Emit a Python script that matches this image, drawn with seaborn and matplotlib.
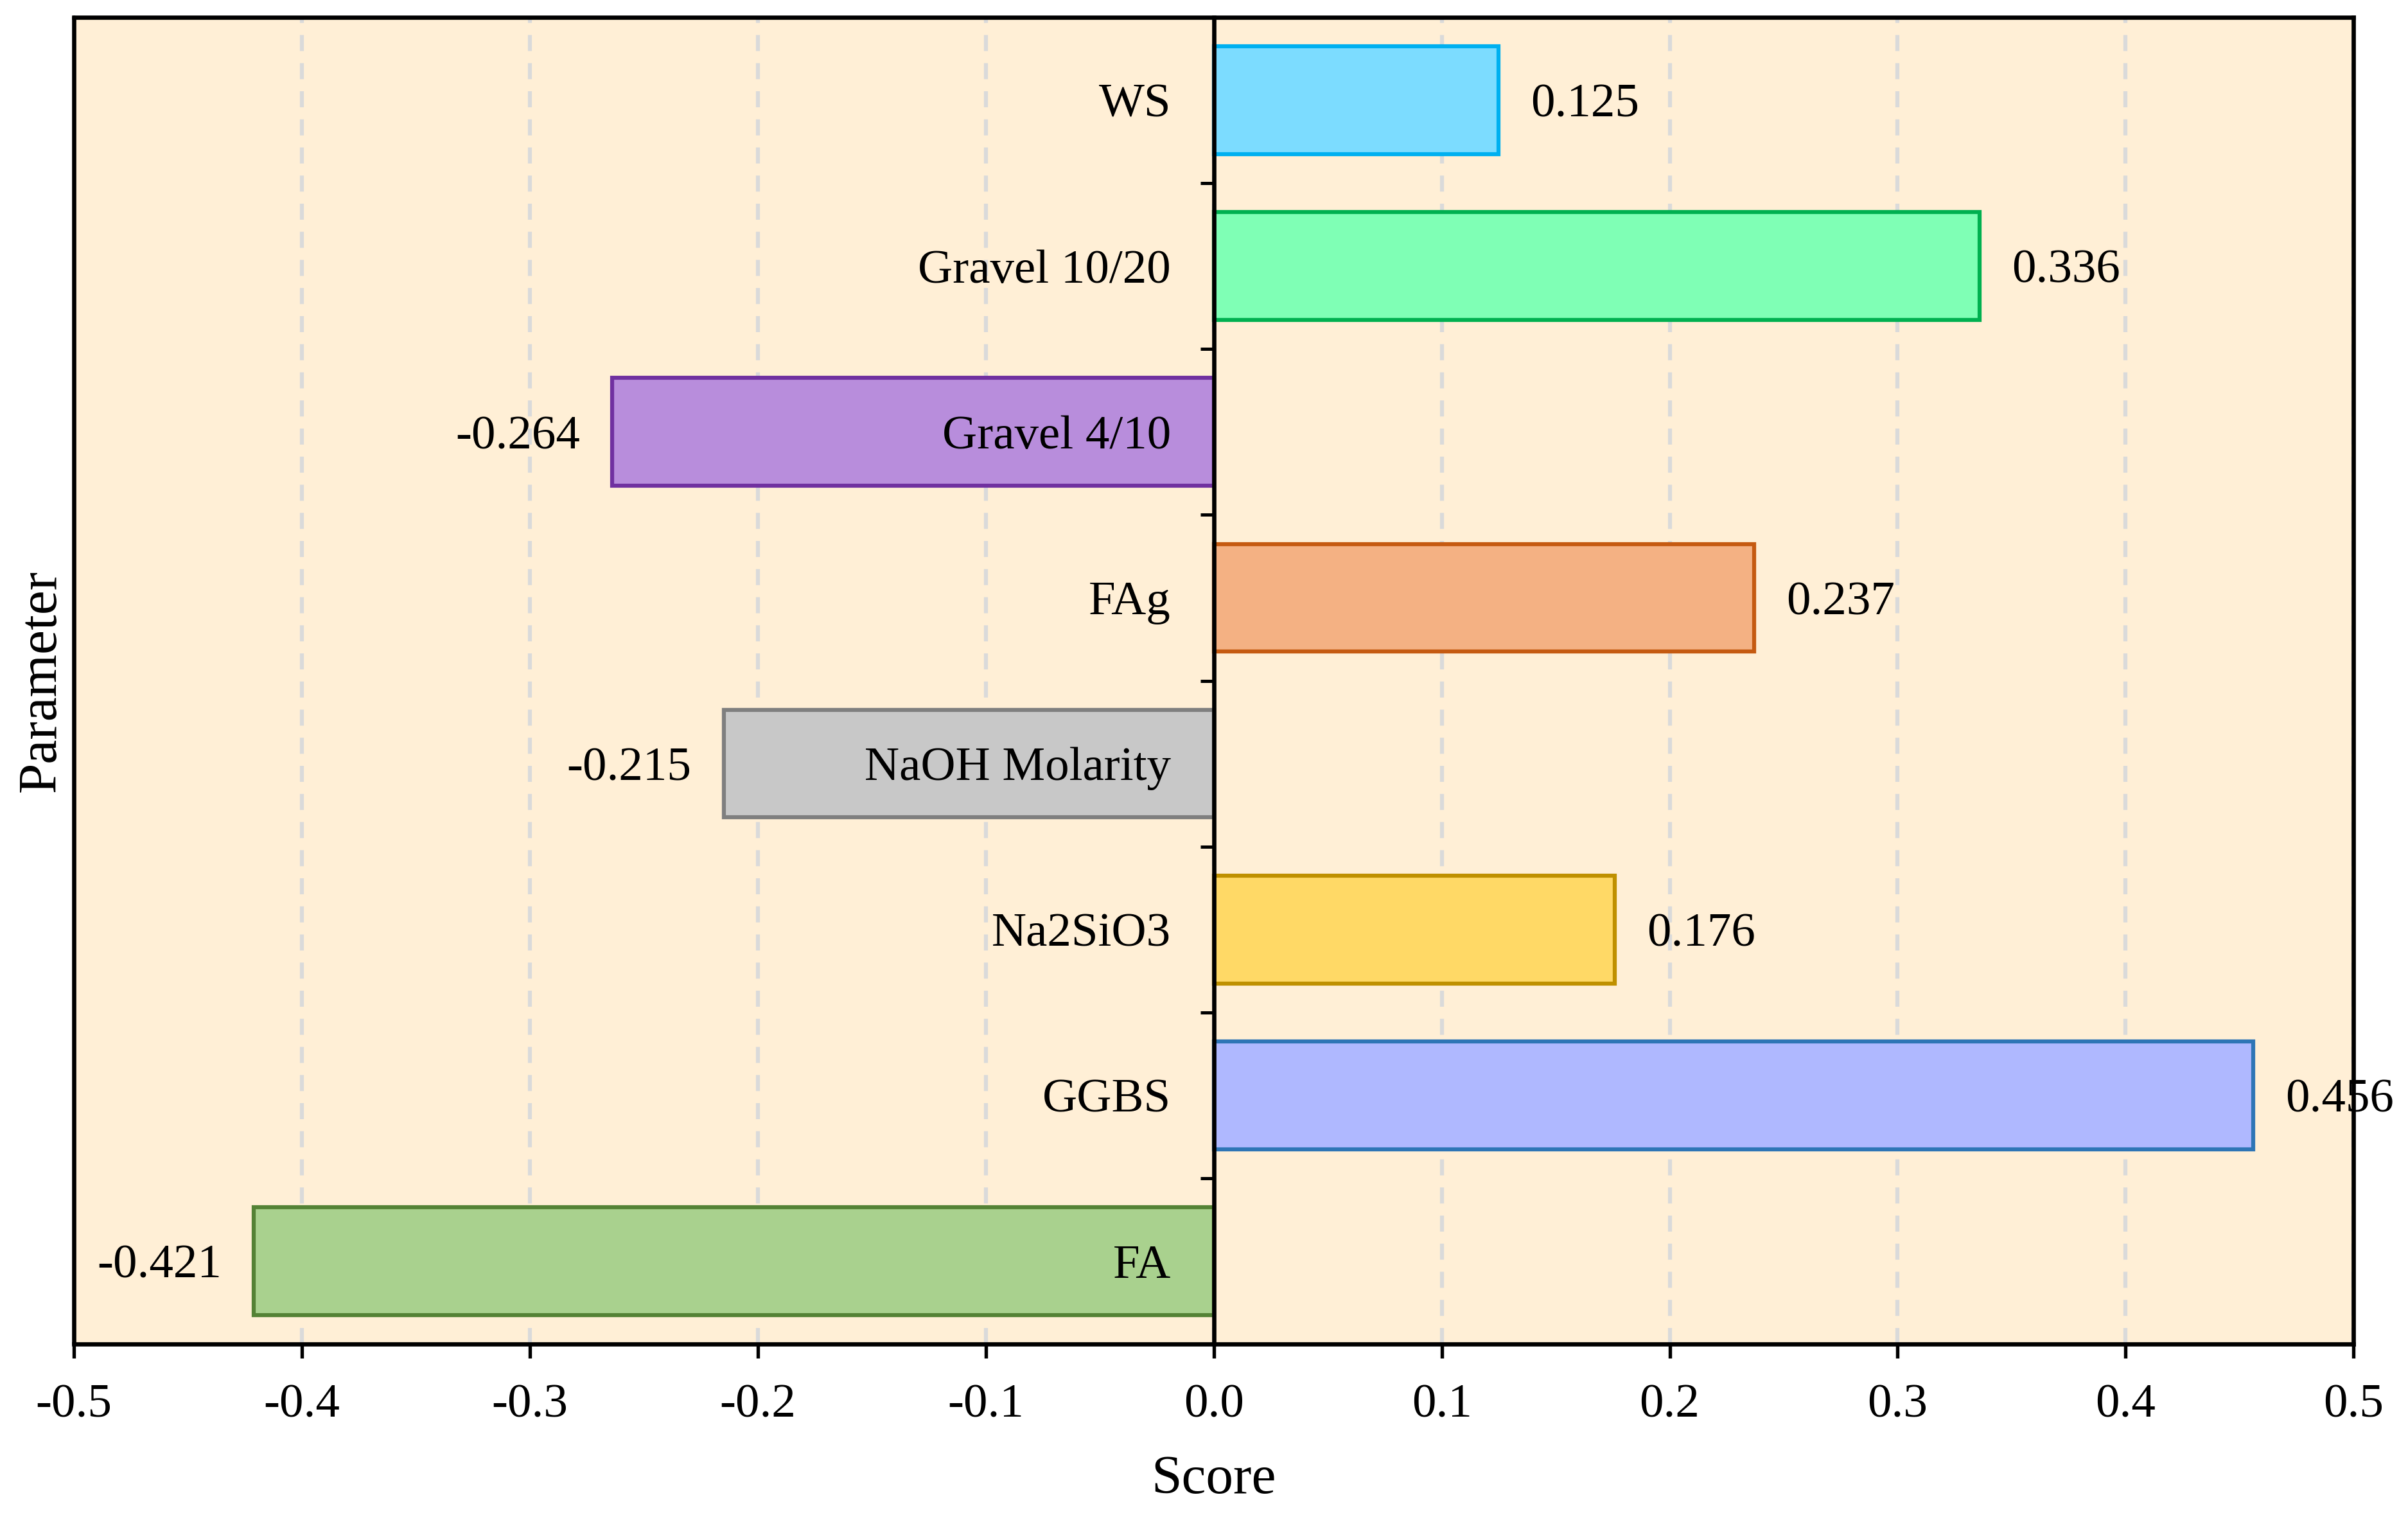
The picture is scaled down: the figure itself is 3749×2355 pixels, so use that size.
import numpy as np
import pandas as pd
import matplotlib
matplotlib.use('Agg')
import matplotlib.pyplot as plt
from matplotlib.ticker import FixedLocator, FormatStrFormatter
import seaborn as sns

# Data (top to bottom as shown)
parameters = ['WS', 'Gravel 10/20', 'Gravel 4/10', 'FAg', 'NaOH Molarity',
              'Na2SiO3', 'GGBS', 'FA']
scores = [0.125, 0.336, -0.264, 0.237, -0.215, 0.176, 0.456, -0.421]
fill_colors = ['#7CDCFF', '#7FFFB5', '#B88DDC', '#F4B183', '#C8C8C8',
               '#FFD966', '#AFB8FF', '#A9D18E']
edge_colors = ['#00B0F0', '#00B050', '#7030A0', '#C55A11', '#7F7F7F',
               '#BF9000', '#2E75B6', '#548235']
x_ticks = [-0.5, -0.4, -0.3, -0.2, -0.1, 0.0, 0.1, 0.2, 0.3, 0.4, 0.5]

df = pd.DataFrame({'Parameter': parameters, 'Score': scores})

sns.set_style('ticks')
plt.rcParams['font.family'] = ['Liberation Serif', 'DejaVu Serif']
plt.rcParams['axes.unicode_minus'] = False
for key in ['text.color', 'axes.labelcolor', 'xtick.color', 'ytick.color']:
    plt.rcParams[key] = 'black'

fig, ax = plt.subplots(figsize=(3749 / 300, 2355 / 300), dpi=300)
fig.subplots_adjust(left=0.0307, right=0.9774, top=0.9885, bottom=0.1117)
ax.set_facecolor('#FFEFD6')

sns.barplot(data=df, x='Score', y='Parameter', hue='Parameter', order=parameters,
            palette=dict(zip(parameters, fill_colors)), orient='h', width=0.65,
            legend=False, linewidth=1.5, saturation=1, ax=ax)

# Edge colours and value labels
for container, edge in zip(ax.containers, edge_colors):
    for patch, value in zip(container.patches, container.datavalues):
        patch.set_edgecolor(edge)
        patch.set_linewidth(1.5)
        y = patch.get_y() + patch.get_height() / 2
        off = 12 if value >= 0 else -12
        ax.annotate(f'{value:.3f}', xy=(value, y), xytext=(off, 0),
                    textcoords='offset points', ha='left' if value >= 0 else 'right',
                    va='center_baseline', fontsize=18, color='black')

ax.set_xlim(-0.5, 0.5)
ax.set_ylim(len(parameters) - 0.5, -0.5)
ax.xaxis.set_major_locator(FixedLocator(x_ticks))
ax.xaxis.set_major_formatter(FormatStrFormatter('%.1f'))
ax.yaxis.set_minor_locator(FixedLocator(np.arange(0.5, len(parameters) - 1, 1.0)))

# Grid behind bars, category labels on top of bars
ax.set_axisbelow(True)
ax.grid(axis='x', color='#DADADA', linewidth=1.5, linestyle=(0, (4, 3)))
ax.grid(axis='y', visible=False)
ax.yaxis.set_zorder(3)

# Spines: left axis at x = 0, box line at the left edge
for side in ['top', 'right', 'bottom', 'left']:
    ax.spines[side].set_linewidth(1.6)
    ax.spines[side].set_color('black')
    ax.spines[side].set_zorder(3)
ax.spines['left'].set_position(('data', 0))
ax.axvline(-0.5, color='black', linewidth=1.6, clip_on=False, zorder=3)

ax.tick_params(axis='x', which='major', length=5.3, width=1.3, pad=9.5,
               labelsize=18, color='black', direction='out')
ax.tick_params(axis='y', which='major', length=0, pad=16, labelsize=18)
ax.tick_params(axis='y', which='minor', length=5, width=1.2, color='black',
               direction='out', left=True)

ax.set_xlabel('Score', fontsize=20.5, labelpad=10.5)
ax.set_ylabel('Parameter', fontsize=20.5)
ax.yaxis.set_label_coords(-0.0033, 0.5)

fig.savefig('out.png', dpi=300)
